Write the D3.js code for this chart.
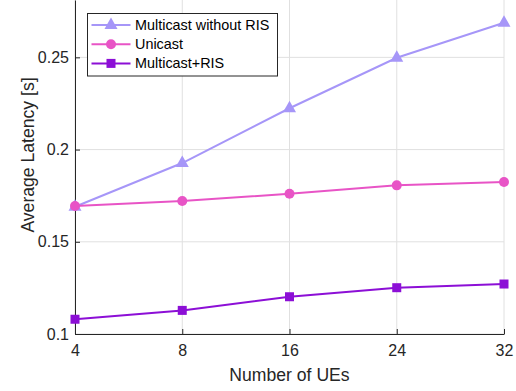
<!DOCTYPE html>
<html>
<head>
<meta charset="utf-8">
<script src="https://cdn.jsdelivr.net/npm/d3@7"></script>
<style>
  body { margin: 0; background: #fff; }
  svg { display: block; font-family: "Liberation Sans", Arial, sans-serif; }
</style>
</head>
<body>
<svg id="chart" width="516" height="391"></svg>
<script>
// Chart data
const ues = ["4", "8", "16", "24", "32"];
const multicastNoRis = [0.169, 0.1927, 0.2224, 0.2498, 0.2688];
const unicast = [0.1694, 0.1721, 0.176, 0.1806, 0.1824];
const multicastRis = [0.108, 0.1128, 0.1202, 0.1251, 0.1271];
const yTicks = [0.1, 0.15, 0.2, 0.25];

const series = [
  { name: "Multicast without RIS", values: multicastNoRis, color: "#a696f8", marker: "triangle" },
  { name: "Unicast", values: unicast, color: "#e854c6", marker: "circle" },
  { name: "Multicast+RIS", values: multicastRis, color: "#8c0fd6", marker: "square" }
];

const width = 516, height = 391;
const margin = { top: 0, right: 12, bottom: 57, left: 75 };
const plotW = width - margin.left - margin.right;
const plotH = height - margin.top - margin.bottom;

const svg = d3.select("#chart");
const g = svg.append("g").attr("transform", `translate(${margin.left},${margin.top})`);

const x = d3.scalePoint().domain(ues).range([0, plotW]);
const y = d3.scaleLinear().domain([0.1, 0.2811]).range([plotH, 0]);

// Grid lines
g.append("g")
  .selectAll("line.vgrid")
  .data(ues)
  .join("line")
  .attr("x1", d => x(d)).attr("x2", d => x(d))
  .attr("y1", 0).attr("y2", plotH)
  .attr("stroke", "#e0e0e0").attr("stroke-width", 1);

g.append("g")
  .selectAll("line.hgrid")
  .data(yTicks)
  .join("line")
  .attr("x1", 0).attr("x2", plotW)
  .attr("y1", d => y(d)).attr("y2", d => y(d))
  .attr("stroke", "#e0e0e0").attr("stroke-width", 1);

// Axes (MATLAB style, inward ticks)
const xAxis = g.append("g")
  .attr("transform", `translate(0,${plotH})`)
  .call(d3.axisBottom(x).tickSizeInner(-5).tickSizeOuter(0).tickPadding(11));
const yAxis = g.append("g")
  .call(d3.axisLeft(y).tickValues(yTicks).tickFormat(d3.format("~g")).tickSizeInner(-5).tickSizeOuter(0).tickPadding(6));

[xAxis, yAxis].forEach(ax => {
  ax.select(".domain").attr("stroke", "#262626").attr("stroke-width", 1);
  ax.selectAll(".tick line").attr("stroke", "#262626");
  ax.selectAll(".tick text")
    .attr("fill", "#262626")
    .style("font-size", "16px")
    .style("font-family", "Liberation Sans, Arial, sans-serif");
});

// Axis labels
svg.append("text")
  .attr("x", margin.left + plotW / 2)
  .attr("y", 381)
  .attr("text-anchor", "middle")
  .attr("fill", "#262626")
  .style("font-size", "17.6px")
  .text("Number of UEs");

svg.append("text")
  .attr("transform", `translate(34,${155}) rotate(-90)`)
  .attr("text-anchor", "middle")
  .attr("fill", "#262626")
  .style("font-size", "17.6px")
  .text("Average Latency [s]");

// Marker drawing helper
const drawMarker = (sel, type, color) => {
  if (type === "triangle") {
    sel.append("path")
      .attr("d", "M0,-7.5 L6.5,4 L-6.5,4 Z")
      .attr("fill", color);
  } else if (type === "circle") {
    sel.append("circle").attr("r", 5).attr("fill", color);
  } else {
    sel.append("rect")
      .attr("x", -4.5).attr("y", -4.5)
      .attr("width", 9).attr("height", 9)
      .attr("fill", color);
  }
};

const line = d3.line()
  .x((d, i) => x(ues[i]))
  .y(d => y(d));

series.forEach(s => {
  g.append("path")
    .datum(s.values)
    .attr("fill", "none")
    .attr("stroke", s.color)
    .attr("stroke-width", 2)
    .attr("d", line);

  s.values.forEach((v, i) => {
    const m = g.append("g").attr("transform", `translate(${x(ues[i])},${y(v)})`);
    drawMarker(m, s.marker, s.color);
  });
});

// Legend
const legend = svg.append("g").attr("transform", "translate(87.5,13.5)");
legend.append("rect")
  .attr("width", 190).attr("height", 62.5)
  .attr("fill", "#fff")
  .attr("stroke", "#262626").attr("stroke-width", 1);

series.forEach((s, i) => {
  const row = legend.append("g").attr("transform", `translate(0,${11.5 + i * 19.2})`);
  row.append("line")
    .attr("x1", 4).attr("x2", 43)
    .attr("stroke", s.color).attr("stroke-width", 2);
  const m = row.append("g").attr("transform", "translate(23.5,0)");
  drawMarker(m, s.marker, s.color);
  row.append("text")
    .attr("x", 47.5)
    .attr("dy", "0.35em")
    .attr("fill", "#000")
    .style("font-size", "14.4px")
    .text(s.name);
});
</script>
</body>
</html>
